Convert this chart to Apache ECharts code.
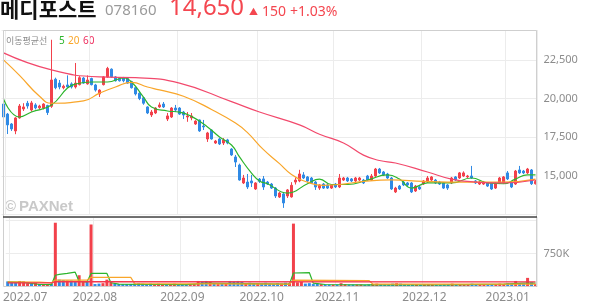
<!DOCTYPE html>
<html><head><meta charset="utf-8">
<script src="https://cdn.jsdelivr.net/npm/echarts@6/dist/echarts.min.js"></script>
<style>html,body{margin:0;padding:0;background:#fff}#c{width:594px;height:304px}</style>
</head><body><div id="c"></div>
<script>
// trading days
const dates = [
'2022.06.30','2022.07.01','2022.07.04','2022.07.05','2022.07.06','2022.07.07','2022.07.08','2022.07.11','2022.07.12','2022.07.13','2022.07.14','2022.07.15',
'2022.07.18','2022.07.19','2022.07.20','2022.07.21','2022.07.22','2022.07.25','2022.07.26','2022.07.27','2022.07.28','2022.07.29',
'2022.08.01','2022.08.02','2022.08.03','2022.08.04','2022.08.05','2022.08.08','2022.08.09','2022.08.10','2022.08.11','2022.08.12',
'2022.08.16','2022.08.17','2022.08.18','2022.08.19','2022.08.22','2022.08.23','2022.08.24','2022.08.25','2022.08.26','2022.08.29','2022.08.30','2022.08.31',
'2022.09.01','2022.09.02','2022.09.05','2022.09.06','2022.09.07','2022.09.08','2022.09.13','2022.09.14','2022.09.15','2022.09.16',
'2022.09.19','2022.09.20','2022.09.21','2022.09.22','2022.09.23','2022.09.26','2022.09.27','2022.09.28','2022.09.29','2022.09.30',
'2022.10.04','2022.10.05','2022.10.06','2022.10.07','2022.10.11','2022.10.12','2022.10.13','2022.10.14','2022.10.17','2022.10.18',
'2022.10.19','2022.10.20','2022.10.21','2022.10.24','2022.10.25','2022.10.26','2022.10.27','2022.10.28','2022.10.31',
'2022.11.01','2022.11.02','2022.11.03','2022.11.04','2022.11.07','2022.11.08','2022.11.09','2022.11.10','2022.11.11','2022.11.14',
'2022.11.15','2022.11.16','2022.11.17','2022.11.18','2022.11.21','2022.11.22','2022.11.23','2022.11.24','2022.11.25','2022.11.28','2022.11.29','2022.11.30',
'2022.12.01','2022.12.02','2022.12.05','2022.12.06','2022.12.07','2022.12.08','2022.12.09','2022.12.12','2022.12.13','2022.12.14','2022.12.15','2022.12.16',
'2022.12.19','2022.12.20','2022.12.21','2022.12.22','2022.12.23','2022.12.26','2022.12.27','2022.12.28','2022.12.29',
'2023.01.02','2023.01.03','2023.01.04','2023.01.05','2023.01.06','2023.01.09','2023.01.10','2023.01.11'
];
// [open, close, low, high]
const candles = [
[19650,18810,18680,20040],[19000,18300,17710,19070],[18360,18040,17910,18420],[17910,18750,17700,18800],[18750,19520,18700,19650],
[19330,19460,19200,19700],[19700,19520,19350,19850],[19260,19720,19150,19850],[19590,19400,19300,19700],[19400,19520,19300,19600],
[19390,19650,19300,19700],[19550,19100,18940,19600],[19500,21200,19400,23800],[21250,20700,20600,21350],[21000,20750,20600,21200],
[20700,20800,20600,20900],[20880,20750,20700,21500],[20950,20750,20650,21050],[20750,21000,20650,22300],[20900,21350,20850,21450],
[21330,21000,20950,21400],[20950,21200,20900,21500],[21300,20900,20850,21350],[20880,20550,20450,20950],[20300,20550,20100,20600],
[20900,21400,20850,21450],[21400,21950,21350,22050],[21900,21400,21350,21950],[21400,21150,21100,21450],[21300,21150,21100,21350],
[21350,21150,21050,21400],[21300,21000,20950,21350],[21100,20700,20650,21150],[20700,20300,20200,20750],[20350,20000,19900,20400],
[20050,19700,19600,20100],[19460,19070,19000,19500],[18940,19130,18810,19260],[19070,19390,19000,19450],[19460,19590,19400,19750],
[19650,19460,19390,19780],[18680,18880,18550,19070],[18810,19390,18750,19450],[19390,19260,19130,19590],[19390,19000,18950,19450],
[19130,18940,18680,19200],[18810,18880,18500,19130],[18750,18880,18600,19070],[18360,18550,18300,18600],[18620,17910,17850,18650],
[18230,18170,17970,18620],[17390,17780,17200,17850],[17970,17390,17350,18000],[17130,17260,17070,17330],[17390,17070,17000,17450],
[17130,17330,17000,17450],[17330,17130,17050,17400],[16740,16360,16300,16800],[16230,15900,15580,16360],[15710,14740,14700,15800],
[14550,14870,14480,15070],[14610,14290,14160,15130],[14680,14550,14290,15070],[14160,14550,14100,14600],[14800,14650,14550,14870],
[14810,14290,14100,15000],[14610,14480,14420,14680],[14480,14220,14160,14550],[14220,13710,13580,14290],[13640,13900,13580,13970],
[13840,13260,12940,13900],[13710,14100,13580,14160],[13650,14400,13600,14600],[14610,14740,14450,14900],[14680,15130,14600,15400],
[15070,14870,14800,15250],[14940,14680,14600,15000],[14870,14550,14480,14940],[14610,14290,14100,14680],[14220,14420,14100,14480],
[14480,14220,14160,14550],[14420,14220,14160,14480],[14220,14420,14160,14480],[14480,14290,14220,14550],[14290,14870,14220,15130],
[14740,14870,14680,14940],[14870,14680,14610,14940],[14810,14680,14610,14870],[14680,14870,14610,14940],[14740,14870,14680,14940],
[14740,14550,14480,14810],[15000,14740,14680,15070],[14740,15000,14680,15130],[15000,15450,14940,15520],[15450,15200,15130,15520],
[15260,15070,15000,15320],[15130,14870,14810,15200],[14870,14160,14100,14940],[13970,14220,13900,14300],[14350,14160,14100,14420],
[14610,14420,14350,14680],[14550,14420,14350,14610],[14550,13970,13900,14610],[14030,14350,13970,14420],[14290,14160,14100,14350],
[14480,14680,14420,14740],[14610,14870,14550,15000],[14740,14940,14680,15000],[14740,14550,14480,14810],[14610,14480,14420,14680],
[14550,14220,14160,14610],[14420,14220,14100,14480],[14550,14870,14480,14940],[14940,14740,14680,15000],[14870,15200,14810,15260],
[15000,15200,14940,15300],[14940,15000,14870,15070],[15000,14870,14810,15650],[14680,14550,14480,14740],[14480,14610,14420,14680],
[14480,14610,14420,14680],[14550,14350,14290,14610],[14550,14160,14100,14610],[14220,14550,14160,14610],[14550,14870,14480,14940],
[14550,14940,14480,15000],[15200,14810,14740,15320],[14610,14290,14220,14680],[14480,15320,14420,15390],[15390,15200,15130,15650],
[15320,15200,15130,15390],[15200,15450,15130,15520],[15390,14500,14420,15450],[14500,14650,14450,14740]
];
const volumes = [
120000,110000,100000,130000,120000,80000,70000,90000,60000,60000,60000,70000,
1450000,160000,150000,140000,140000,130000,260000,130000,120000,
1410000,60000,70000,80000,160000,100000,70000,60000,60000,60000,60000,70000,80000,70000,60000,
70000,60000,70000,60000,50000,60000,70000,50000,60000,50000,50000,60000,
130000,120000,130000,110000,70000,60000,70000,80000,130000,120000,130000,110000,80000,90000,70000,80000,
70000,90000,70000,60000,80000,70000,90000,80000,
1430000,100000,110000,70000,80000,60000,70000,60000,50000,50000,50000,50000,80000,60000,50000,50000,
50000,50000,40000,50000,60000,70000,60000,50000,50000,70000,80000,70000,50000,40000,50000,50000,40000,
50000,60000,50000,40000,40000,50000,60000,70000,50000,60000,50000,50000,70000,50000,40000,40000,50000,
60000,60000,70000,60000,80000,70000,130000,80000,70000,200000,100000,60000
];
// moving averages: [dayIndex, value]
const ma5 = [[0,19970],[4,18810],[7,19130],[12,19590],[16,20680],[18,20940],[22,21070],[26,21070],[30,21330],[32,21070],
[35,20100],[37,19460],[41,19200],[44,19130],[47,18850],[51,18170],[54,17520],[57,17000],[59,16230],[62,15190],[64,14680],
[66,14500],[71,13900],[76,14500],[79,14800],[82,14450],[86,14450],[91,14740],[96,15070],[99,14800],[102,14220],[106,14550],
[112,14550],[117,14870],[121,14550],[125,14500],[128,14800],[131,15070],[133,15070]];
const ma20 = [[0,22500],[4,21500],[9,20150],[12,19700],[20,19850],[24,20350],[28,20750],[32,21050],[36,20750],[39,20560],
[45,20150],[52,19300],[58,18420],[61,17800],[65,16700],[69,15800],[72,15100],[76,14600],[80,14400],[84,14450],[90,14650],
[97,14750],[105,14650],[115,14600],[125,14600],[133,14800]];
const ma60 = [[0,22950],[12,21850],[24,21400],[33,21350],[44,21000],[57,19800],[64,19130],[74,18300],[79,17700],[85,17130],
[90,16350],[94,16000],[98,15840],[106,15260],[112,14800],[118,14610],[125,14550],[133,14740]];
const volMa5 = [[0,110000],[4,100000],[8,50000],[11,45000],[12,260000],[13,280000],[15,300000],[17,330000],[18,120000],[20,110000],
[21,300000],[25,300000],[26,90000],[28,60000],[35,50000],[45,45000],[50,80000],[60,70000],[71,60000],[72,310000],[76,320000],
[77,80000],[80,50000],[90,40000],[110,40000],[125,60000],[130,80000],[133,80000]];
const volMa20 = [[0,110000],[8,105000],[11,90000],[12,150000],[20,150000],[21,210000],[31,210000],[32,70000],[71,60000],
[72,150000],[91,140000],[92,60000],[133,60000]];
const volMa60 = [[0,85000],[11,85000],[12,115000],[133,110000]];
const monthTicks = [[1,'2022.07'],[22,'2022.08'],[44,'2022.09'],[64,'2022.10'],[83,'2022.11'],[105,'2022.12'],[126,'2023.01']];

const UP='#f2414b', DOWN='#2f8ae5', C5='#2db52d', C20='#f9a62a', C60='#f2496c';
const tickIdx = new Set(monthTicks.map(t=>t[0]));
const tickName = Object.fromEntries(monthTicks);
const GL=1.5, GR=56.5;
const chart = echarts.init(document.getElementById('c'), null, {renderer:'canvas'});
const lbl = {color:'#8c8c8c', fontSize:11, fontFamily:'"Noto Sans", sans-serif'};
function maLine(data, color, xi, yi, smooth){
  return {type:'line', data, xAxisIndex:xi, yAxisIndex:yi, showSymbol:false, smooth, silent:true,
    lineStyle:{color, width:1.2}, z:3};
}
chart.setOption({
  animation:false,
  grid:[{left:GL,right:GR,top:30,height:184.7},{left:GL,right:GR,top:217,height:69.7}],
  xAxis:[
    {type:'category', gridIndex:0, data:dates, boundaryGap:true, axisLine:{show:false}, axisTick:{show:false},
     axisLabel:{show:false}, splitLine:{show:true, interval:(i)=>tickIdx.has(i), lineStyle:{color:'#ececec'}}},
    {type:'category', gridIndex:1, data:dates, boundaryGap:true, axisLine:{show:false}, axisTick:{show:false},
     splitLine:{show:true, interval:(i)=>tickIdx.has(i), lineStyle:{color:'#ececec'}},
     axisLabel:Object.assign({}, lbl, {fontSize:12, margin:5, interval:(i)=>tickIdx.has(i),
       formatter:(v,i)=> i===1 ? '{f|'+tickName[i]+'}' : (tickName[i]||''),
       rich:{f:{padding:[0,0,0,27], color:'#8c8c8c', fontSize:12, fontFamily:'"Noto Sans", sans-serif'}}})}
  ],
  yAxis:[
    {type:'value', gridIndex:0, position:'right', min:12500, max:24430, interval:2500, axisLine:{show:false}, axisTick:{show:false},
     axisLabel:Object.assign({}, lbl, {showMinLabel:false, showMaxLabel:false, margin:6, formatter:(v)=>v.toLocaleString('en-US')}),
     splitLine:{lineStyle:{color:'#ececec'}}},
    {type:'value', gridIndex:1, position:'right', min:0, max:1580000, interval:750000, axisLine:{show:false}, axisTick:{show:false},
     axisLabel:Object.assign({}, lbl, {margin:6, showMaxLabel:false, formatter:(v)=> v===750000 ? '750K' : ''}),
     splitLine:{lineStyle:{color:'#ececec'}}}
  ],
  series:[
    {type:'candlestick', xAxisIndex:0, yAxisIndex:0, data:candles, barWidth:3,
     itemStyle:{color:UP, color0:DOWN, borderColor:UP, borderColor0:DOWN, borderWidth:1}, z:2},
    maLine(ma5, C5, 0, 0, true), maLine(ma20, C20, 0, 0, true), maLine(ma60, C60, 0, 0, true),
    {type:'bar', xAxisIndex:1, yAxisIndex:1, barWidth:3, silent:true,
     data:volumes.map((v,i)=>({value:v, itemStyle:{color: candles[i][1]>=candles[i][0] ? UP : DOWN}}))},
    maLine(volMa5, C5, 1, 1, false), maLine(volMa20, C20, 1, 1, false), maLine(volMa60, '#f4364c', 1, 1, false)
  ],
  graphic:[
    {type:'rect', shape:{x:3.5, y:30.5, width:533, height:256}, style:{fill:'none', stroke:'#cfcfcf', lineWidth:1}, z:50, silent:true},
    {type:'line', shape:{x1:3, y1:217, x2:537, y2:217}, style:{stroke:'#444', lineWidth:1.5}, z:51, silent:true},
    {type:'text', left:0, top:-1.5, style:{text:'메디포스트', font:'bold 21px "Noto Sans CJK KR"', fill:'#111'}},
    {type:'text', left:105, top:3, style:{text:'078160', font:'15px "Noto Sans"', fill:'#9a9a9a'}},
    {type:'text', left:169, top:-3.5, style:{text:'14,650', font:'24px "Noto Sans"', fill:'#f4464f'}},
    {type:'text', left:249, top:7.5, style:{text:'▲', font:'9px "Noto Sans CJK KR"', fill:'#f4464f'}},
    {type:'text', left:262, top:5, style:{text:'150', font:'14px "Noto Sans"', fill:'#f4464f'}},
    {type:'text', left:290, top:5, style:{text:'+1.03%', font:'14px "Noto Sans"', fill:'#f4464f'}},
    {type:'text', left:6, top:36.5, style:{text:'이동평균선', font:'9px "Noto Sans CJK KR"', fill:'#8c8c8c'}},
    {type:'text', left:59, top:36, style:{text:'5', font:'10px "Noto Sans"', fill:C5}},
    {type:'text', left:68, top:36, style:{text:'20', font:'10px "Noto Sans"', fill:C20}},
    {type:'text', left:83, top:36, style:{text:'60', font:'10px "Noto Sans"', fill:'#ee2e5e'}},
    {type:'text', left:5, top:199, style:{text:'©', font:'bold 15px "Liberation Sans"', fill:'#c9c9c9'}},
    {type:'text', left:19, top:199, style:{text:'PAXNet', font:'bold 15px "Liberation Sans"', fill:'#c9c9c9'}}
  ]
});
</script></body></html>
